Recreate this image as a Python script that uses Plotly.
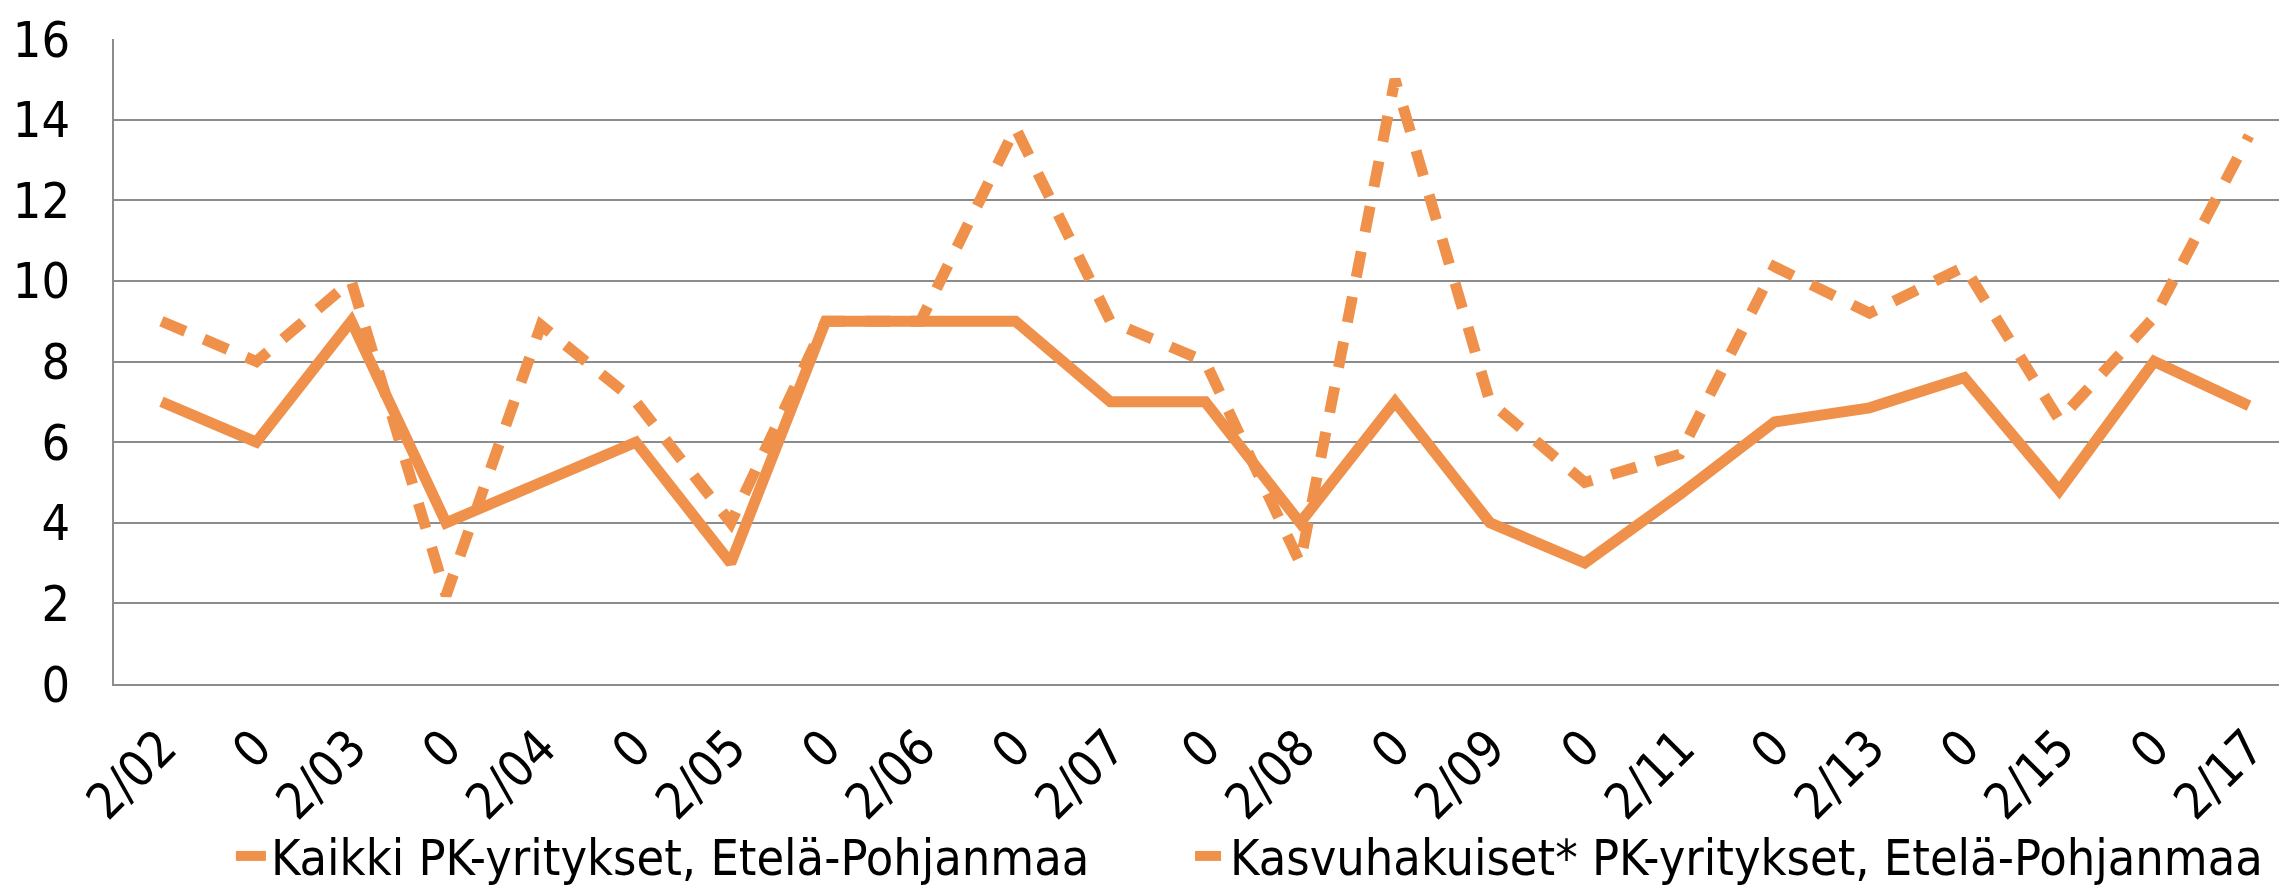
import plotly.graph_objects as go

tick_labels = ["2/02", "0", "2/03", "0", "2/04", "0", "2/05", "0", "2/06", "0",
               "2/07", "0", "2/08", "0", "2/09", "0", "2/11", "0", "2/13", "0",
               "2/15", "0", "2/17"]
kaikki = [7, 6, 9, 4, 5, 6, 3, 9, 9, 9, 7, 7, 4, 7, 4, 3, 4.7, 6.5, 6.85, 7.6, 4.8, 8, 6.9]
kasvu = [9, 8, 10, 2.2, 8.9, 7, 4, 9, 9, 13.8, 9, 8, 3, 15, 7, 5, 5.7, 10.35, 9.2, 10.35, 6.55, 9.1, 13.6]

x = list(range(len(tick_labels)))
color = "#F0914B"
font = "DejaVu Sans Condensed, DejaVu Sans, sans-serif"
fs = 50

fig = go.Figure()
fig.add_trace(go.Scatter(x=x, y=kaikki, mode="lines", name="Kaikki PK-yritykset, Etelä-Pohjanmaa",
                         line=dict(color=color, width=11), legend="legend"))
fig.add_trace(go.Scatter(x=x, y=kasvu, mode="lines", name="Kasvuhakuiset* PK-yritykset, Etelä-Pohjanmaa",
                         line=dict(color=color, width=11, dash="26px,20px"), legend="legend2"))

leg_common = dict(orientation="h", y=-0.327, yanchor="bottom", xanchor="left",
                  font=dict(size=fs), bgcolor="rgba(0,0,0,0)", itemwidth=30)

fig.update_layout(
    width=2279, height=900,
    margin=dict(l=106, r=0, t=31, b=224),
    paper_bgcolor="white", plot_bgcolor="white",
    font=dict(family=font, size=fs, color="black"),
    showlegend=True,
    legend=dict(x=0.0538, **leg_common),
    legend2=dict(x=0.4952, **leg_common),
    xaxis=dict(range=[-0.5, 22.4], tickmode="array", tickvals=x, ticktext=tick_labels,
               tickangle=-45, showgrid=False, showline=True, linecolor="#8c8c8c", linewidth=2,
               ticks="", zeroline=False, ticklabelstandoff=12, tickfont=dict(size=fs),
               automargin=False),
    yaxis=dict(range=[0, 16], dtick=2, showgrid=True, gridcolor="#8c8c8c", gridwidth=2,
               showline=True, linecolor="#8c8c8c", linewidth=2, zeroline=False,
               ticks="", ticklabelstandoff=32, ticklabeloverflow="allow",
               tickfont=dict(size=fs), automargin=False),
)

fig.write_html("out.html")
